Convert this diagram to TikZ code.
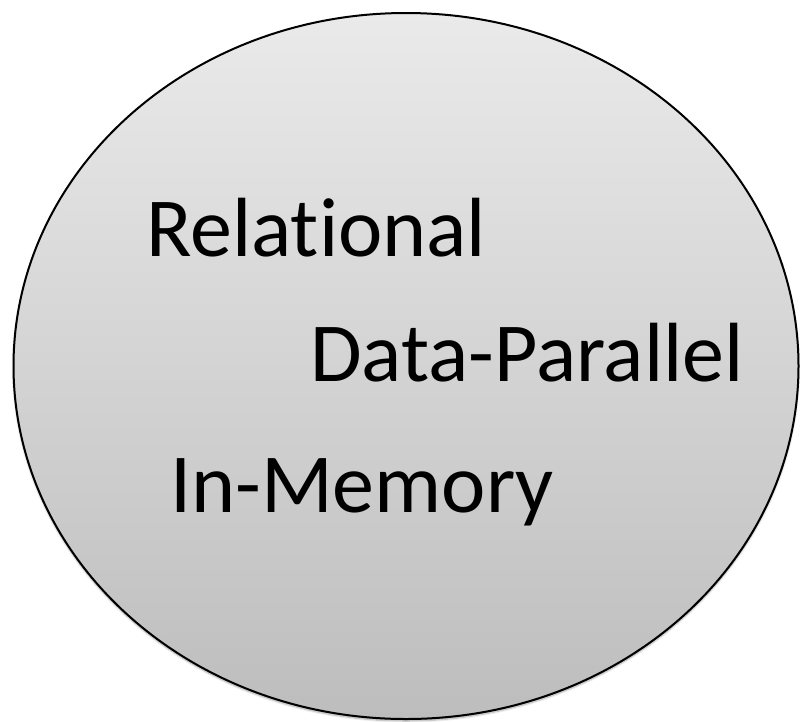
\documentclass[tikz,border=0pt]{standalone}
\usepackage{fontspec}
\setmainfont{Carlito}[Ligatures=CommonOff]
\usetikzlibrary{shadows.blur}
\definecolor{topgray}{HTML}{EAEAEA}
\definecolor{botgray}{HTML}{BDBDBD}
\tikzset{
  label text/.style={anchor=base west, inner sep=0pt, font=\fontsize{84}{100}\selectfont, text=black},
}
\begin{document}
\begin{tikzpicture}[x=1pt,y=-1pt]
  \useasboundingbox (0,0) rectangle (800,721);
  % shaded oval
  \path[draw=black, line width=2pt, top color=topgray, bottom color=botgray,
        blur shadow={shadow xshift=0pt, shadow yshift=-2pt, shadow blur steps=6, shadow opacity=35}]
    (406,366) ellipse [x radius=392.5, y radius=353];
  \node[label text] (rel) at (146,256) {Relational};
  \node[label text] (dp)  at (310,381) {Data-Parallel};
  \node[label text] (mem) at (170,512) {In-Memory};
\end{tikzpicture}
\end{document}
